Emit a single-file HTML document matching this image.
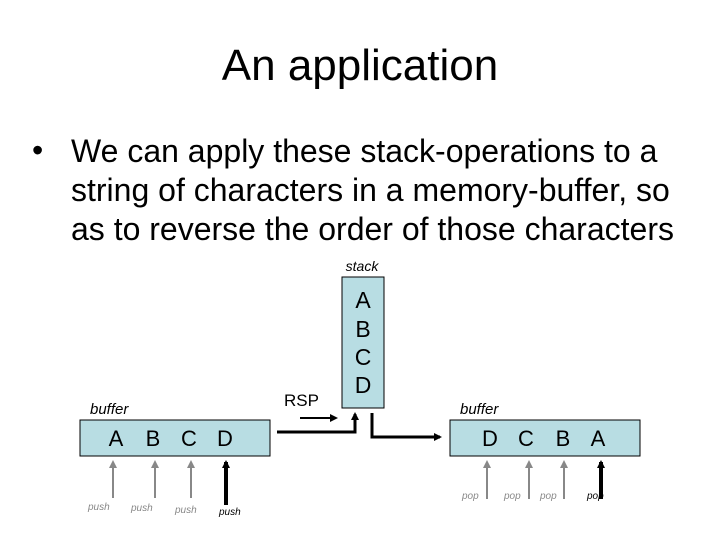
<!DOCTYPE html>
<html><head><meta charset="utf-8"><style>
body{margin:0;width:720px;height:540px;background:#fff;overflow:hidden;position:relative;font-family:"Liberation Sans",sans-serif}
.t{position:absolute;white-space:nowrap}
</style></head><body>
<div class="t" style="left:0;width:720px;text-align:center;top:41px;font-size:44px">An application</div>
<div class="t" style="left:32px;top:132px;font-size:32px">•</div>
<div class="t" style="left:71px;top:132px;font-size:32px;line-height:39px">We can apply these stack-operations to a<br>string of characters in a memory-buffer, so<br>as to reverse the order of those characters</div>
<svg width="720" height="540" style="position:absolute;left:0;top:0" font-family="Liberation Sans, sans-serif">
<defs>
<marker id="a" markerWidth="8" markerHeight="8" refX="6" refY="4" orient="auto" markerUnits="userSpaceOnUse"><path d="M0,0L8,4L0,8z" fill="#000"/></marker>
<marker id="g" markerWidth="8" markerHeight="8" refX="6" refY="4" orient="auto" markerUnits="userSpaceOnUse"><path d="M0,0L8,4L0,8z" fill="#888"/></marker>
</defs>
<text x="362" y="271" font-size="14" font-style="italic" text-anchor="middle">stack</text>
<rect x="342" y="277" width="42" height="131" fill="#b8dde3" stroke="#000"/>
<g font-size="23" text-anchor="middle"><text x="363" y="308">A</text><text x="363" y="337">B</text><text x="363" y="365">C</text><text x="363" y="393">D</text></g>
<text x="284" y="406" font-size="17">RSP</text>
<line x1="300" y1="418" x2="336" y2="418" stroke="#000" stroke-width="2" marker-end="url(#a)"/>
<text x="90" y="414" font-size="15" font-style="italic">buffer</text>
<rect x="80" y="420" width="190" height="36" fill="#b8dde3" stroke="#000"/>
<g font-size="22" text-anchor="middle"><text x="116" y="446">A</text><text x="153" y="446">B</text><text x="189" y="446">C</text><text x="225" y="446">D</text></g>
<text x="460" y="414" font-size="15" font-style="italic">buffer</text>
<rect x="450" y="420" width="190" height="36" fill="#b8dde3" stroke="#000"/>
<g font-size="22" text-anchor="middle"><text x="490" y="446">D</text><text x="526" y="446">C</text><text x="563" y="446">B</text><text x="598" y="446">A</text></g>
<polyline points="277,432 355,432 355,414" fill="none" stroke="#000" stroke-width="3" marker-end="url(#a)"/>
<polyline points="372,413 372,437 440,437" fill="none" stroke="#000" stroke-width="3" marker-end="url(#a)"/>
<g stroke="#888" stroke-width="2"><line x1="113" y1="498" x2="113" y2="462" marker-end="url(#g)"/><line x1="155" y1="498" x2="155" y2="462" marker-end="url(#g)"/><line x1="191" y1="498" x2="191" y2="462" marker-end="url(#g)"/>
<line x1="487" y1="499" x2="487" y2="462" marker-end="url(#g)"/><line x1="529" y1="499" x2="529" y2="462" marker-end="url(#g)"/><line x1="564" y1="499" x2="564" y2="462" marker-end="url(#g)"/></g>
<line x1="226" y1="505" x2="226" y2="462" stroke="#000" stroke-width="4" marker-end="url(#a)"/>
<line x1="601" y1="499" x2="601" y2="462" stroke="#000" stroke-width="4" marker-end="url(#a)"/>
<g font-size="10" font-style="italic" fill="#888"><text x="88" y="510">push</text><text x="131" y="511">push</text><text x="175" y="513">push</text>
<text x="462" y="499">pop</text><text x="504" y="499">pop</text><text x="540" y="499">pop</text></g>
<text x="219" y="515" font-size="10" font-style="italic">push</text>
<text x="587" y="499" font-size="10" font-style="italic">pop</text>
</svg>
</body></html>
